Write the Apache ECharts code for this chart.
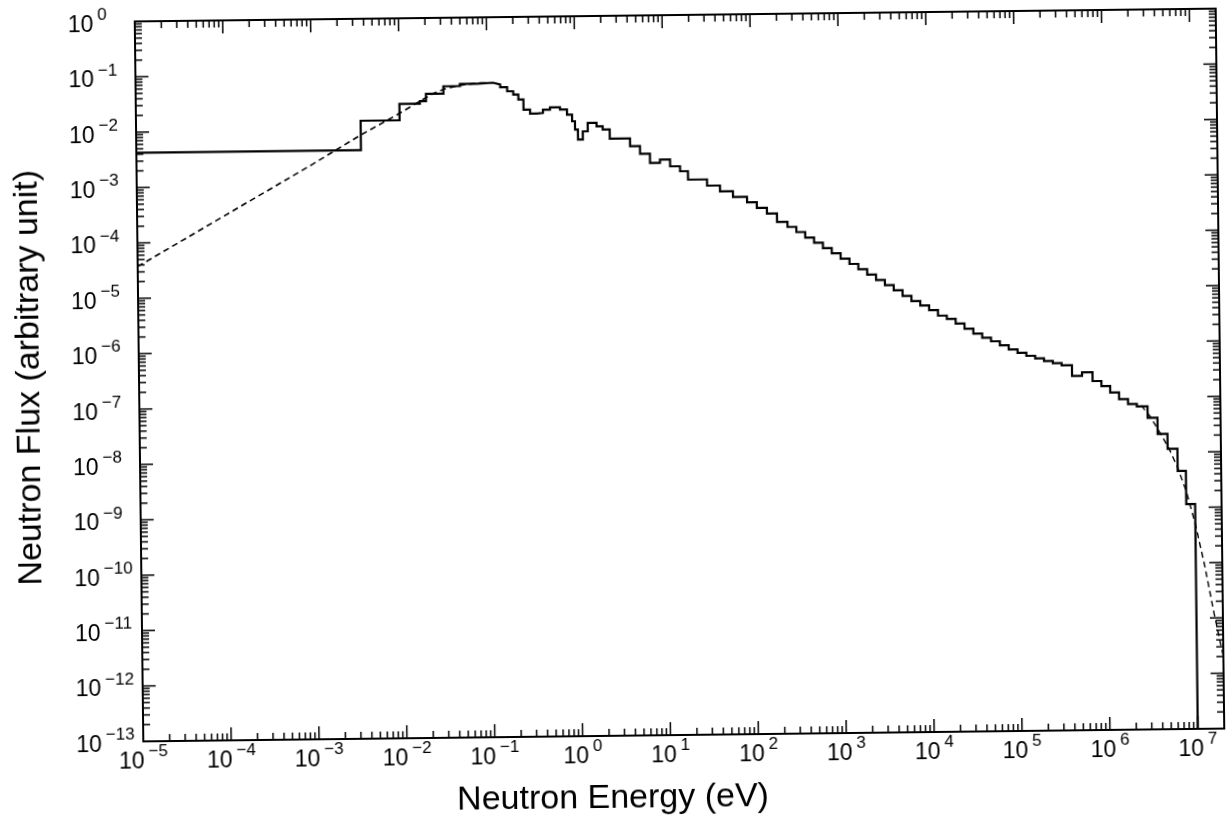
<!DOCTYPE html>
<html>
<head>
<meta charset="utf-8">
<title>Neutron Flux Spectrum</title>
<script src="https://cdn.jsdelivr.net/npm/echarts@6/dist/echarts.min.js"></script>
<style>
  html, body { margin: 0; padding: 0; background: #ffffff; }
  #chart {
    width: 1228px;
    height: 830px;
    transform: rotate(-0.68deg);
    transform-origin: 680px 374.5px;
  }
</style>
</head>
<body>
<div id="chart"></div>
<script>
// Group boundaries of the multigroup flux histogram (eV)
const groupEdges = [
  1e-5, 3.6e-3, 1.0e-2, 0.0171, 0.0201, 0.0318, 0.0491, 0.0769, 0.117, 0.141,
  0.169, 0.198, 0.226, 0.258, 0.306, 0.367, 0.429, 0.516, 0.671, 0.805,
  0.918, 0.989, 1.066, 1.21, 1.38, 1.74, 2.04, 2.45, 4.16, 5.39,
  6.98, 9.06, 11.8, 15.3, 18.8, 30.9, 43.3, 60.7, 87.6, 113,
  147, 191, 251, 316, 398, 501, 631, 794, 1000, 1259,
  1585, 1995, 2512, 3162, 3981, 5012, 6310, 7943, 1.0e4, 1.259e4,
  1.585e4, 1.995e4, 2.512e4, 3.162e4, 3.981e4, 5.012e4, 6.31e4, 7.943e4, 1.0e5, 1.259e5,
  1.585e5, 1.995e5, 2.512e5, 3.162e5, 4.14e5, 5.38e5, 7.08e5, 8.91e5, 1.12e6, 1.41e6,
  1.78e6, 2.24e6, 2.96e6, 3.83e6, 4.95e6, 6.40e6, 7.93e6, 1.0e7, 2.0e7
];

// Flux in each group (arbitrary unit)
const groupFlux = [
  4.23e-3, 0.0144, 0.0284, 0.0315, 0.0425, 0.058, 0.0634, 0.0656, 0.0608, 0.0542,
  0.0456, 0.0398, 0.0322, 0.0211, 0.0178, 0.0183, 0.0209, 0.0229, 0.0208, 0.0168,
  0.0127, 8.97e-3, 5.92e-3, 8.3e-3, 0.01175, 0.01016, 8.85e-3, 6.07e-3, 4.37e-3, 3.17e-3,
  2.16e-3, 2.47e-3, 1.86e-3, 1.51e-3, 1.06e-3, 8.17e-4, 6.42e-4, 5.04e-4, 4.0e-4, 3.15e-4,
  2.48e-4, 1.74e-4, 1.41e-4, 1.135e-4, 9.0e-5, 7.2e-5, 5.75e-5, 4.61e-5, 3.67e-5, 2.94e-5,
  2.34e-5, 1.87e-5, 1.49e-5, 1.20e-5, 9.6e-6, 7.57e-6, 6.1e-6, 5.05e-6, 4.15e-6, 3.28e-6,
  2.84e-6, 2.33e-6, 1.88e-6, 1.53e-6, 1.28e-6, 1.10e-6, 9.3e-7, 7.8e-7, 6.7e-7, 5.9e-7,
  5.3e-7, 4.7e-7, 4.3e-7, 3.9e-7, 2.5e-7, 2.9e-7, 2.0e-7, 1.62e-7, 1.23e-7, 9.3e-8,
  7.6e-8, 6.8e-8, 4.24e-8, 2.16e-8, 1.15e-8, 4.57e-9, 1.15e-9, 1e-13
];

// Smooth reference curve on the thermal side (dashed)
const fitLowEnergy = [1e-5, 1e-4, 1e-3, 3.6e-3, 1e-2, 0.0171, 0.025, 0.033, 0.05, 0.075, 0.1];
const fitLowFlux   = [3.75e-5, 3.0e-4, 2.4e-3, 8.0e-3, 1.92e-2, 3.16e-2, 4.4e-2, 5.2e-2, 6.0e-2, 6.5e-2, 6.6e-2];

// Smooth reference curve on the fast tail (dashed)
const fitHighEnergy = [2.51e6, 3.16e6, 3.98e6, 5.01e6, 6.31e6, 7.94e6, 1.0e7, 1.26e7, 1.58e7, 2.0e7];
const fitHighFlux   = [7.1e-8, 4.5e-8, 2.4e-8, 1.26e-8, 5.6e-9, 2.0e-9, 5.0e-10, 8.9e-11, 1.26e-11, 2.0e-12];

// Decade exponents carrying tick labels
const energyExponents = [-5, -4, -3, -2, -1, 0, 1, 2, 3, 4, 5, 6, 7];
const fluxExponents = [-13, -12, -11, -10, -9, -8, -7, -6, -5, -4, -3, -2, -1, 0];

const E_MIN = 1e-5, E_MAX = 2e7;
const F_MIN = 1e-13, F_MAX = 1;
const MAJOR_LEN = 13, MINOR_LEN = 7;
const LABEL_FONT = '"Liberation Sans", Arial, sans-serif';

// Histogram outline: each group becomes a flat segment; neighbours join vertically
const histogramPoints = [];
for (let i = 0; i < groupFlux.length; i++) {
  histogramPoints.push([groupEdges[i], groupFlux[i]]);
  histogramPoints.push([groupEdges[i + 1], groupFlux[i]]);
}
const fitLowPoints = fitLowEnergy.map((e, i) => [e, fitLowFlux[i]]);
const fitHighPoints = fitHighEnergy.map((e, i) => [e, fitHighFlux[i]]);

// Tick marks for decades (long) and 2..9 subdivisions (short)
const energyTicks = [];
energyExponents.forEach(n => {
  energyTicks.push([Math.pow(10, n), F_MIN, MAJOR_LEN]);
  for (let k = 2; k <= 9; k++) {
    const v = k * Math.pow(10, n);
    if (v < E_MAX) energyTicks.push([v, F_MIN, MINOR_LEN]);
  }
});
const fluxTicks = [];
fluxExponents.forEach(n => {
  fluxTicks.push([E_MIN, Math.pow(10, n), MAJOR_LEN]);
  for (let k = 2; k <= 9; k++) {
    const v = k * Math.pow(10, n);
    if (v < F_MAX) fluxTicks.push([E_MIN, v, MINOR_LEN]);
  }
});

function decadeLabel(value) {
  const lg = Math.log10(value);
  const n = Math.round(lg);
  if (Math.abs(lg - n) > 1e-6) return '';
  const exp = n < 0 ? '\u2212' + (-n) : String(n);
  return '{b|10}{s|' + exp + '}';
}

const labelRich = {
  b: { fontFamily: LABEL_FONT, fontSize: 23, color: '#000', lineHeight: 30, verticalAlign: 'bottom' },
  s: { fontFamily: LABEL_FONT, fontSize: 17, color: '#000', lineHeight: 12, verticalAlign: 'top', padding: [0, 0, 0, 4] }
};

const tickStyle = { stroke: '#000', lineWidth: 1.5 };

const chart = echarts.init(document.getElementById('chart'), null, { renderer: 'canvas' });

chart.setOption({
  animation: false,
  backgroundColor: '#ffffff',
  grid: {
    left: 139, top: 15, width: 1081, height: 720,
    containLabel: false,
    outerBoundsMode: 'none',
    show: true,
    borderColor: '#000',
    borderWidth: 2,
    backgroundColor: 'transparent'
  },
  xAxis: {
    type: 'log',
    logBase: 10,
    min: E_MIN,
    max: E_MAX,
    interval: 1,
    axisLine: { show: false },
    axisTick: { show: false },
    splitLine: { show: false },
    minorTick: { show: false },
    axisLabel: {
      show: true,
      margin: 2,
      formatter: decadeLabel,
      rich: labelRich,
      showMinLabel: true,
      showMaxLabel: true
    }
  },
  yAxis: {
    type: 'log',
    logBase: 10,
    min: F_MIN,
    max: F_MAX,
    interval: 1,
    axisLine: { show: false },
    axisTick: { show: false },
    splitLine: { show: false },
    minorTick: { show: false },
    axisLabel: {
      show: true,
      align: 'left',
      margin: 67,
      formatter: decadeLabel,
      rich: labelRich,
      showMinLabel: true,
      showMaxLabel: true
    }
  },
  graphic: [
    {
      type: 'text',
      x: 608, y: 798,
      style: {
        text: 'Neutron Energy (eV)',
        fontFamily: LABEL_FONT, fontSize: 34, fill: '#000',
        align: 'center', verticalAlign: 'middle'
      }
    },
    {
      type: 'text',
      x: 30, y: 370,
      rotation: Math.PI / 2,
      style: {
        text: 'Neutron Flux (arbitrary unit)',
        fontFamily: LABEL_FONT, fontSize: 34, fill: '#000',
        align: 'center', verticalAlign: 'middle'
      }
    }
  ],
  series: [
    {
      name: 'energy ticks',
      type: 'custom',
      silent: true,
      z: 4,
      data: energyTicks,
      encode: { x: 0, y: 1 },
      renderItem: function (params, api) {
        const v = api.value(0);
        const len = api.value(2);
        const b = api.coord([v, F_MIN]);
        const t = api.coord([v, F_MAX]);
        return {
          type: 'group',
          children: [
            { type: 'line', shape: { x1: b[0], y1: b[1], x2: b[0], y2: b[1] - len }, style: tickStyle },
            { type: 'line', shape: { x1: t[0], y1: t[1], x2: t[0], y2: t[1] + len }, style: tickStyle }
          ]
        };
      }
    },
    {
      name: 'flux ticks',
      type: 'custom',
      silent: true,
      z: 4,
      data: fluxTicks,
      encode: { x: 0, y: 1 },
      renderItem: function (params, api) {
        const v = api.value(1);
        const len = api.value(2);
        const l = api.coord([E_MIN, v]);
        const r = api.coord([E_MAX, v]);
        return {
          type: 'group',
          children: [
            { type: 'line', shape: { x1: l[0], y1: l[1], x2: l[0] + len, y2: l[1] }, style: tickStyle },
            { type: 'line', shape: { x1: r[0], y1: r[1], x2: r[0] - len, y2: r[1] }, style: tickStyle }
          ]
        };
      }
    },
    {
      name: 'fit thermal',
      type: 'line',
      data: fitLowPoints,
      showSymbol: false,
      symbol: 'none',
      clip: false,
      z: 3,
      lineStyle: { color: '#000', width: 1.6, type: [6, 4] }
    },
    {
      name: 'fit fast',
      type: 'line',
      data: fitHighPoints,
      showSymbol: false,
      symbol: 'none',
      clip: false,
      z: 3,
      lineStyle: { color: '#000', width: 1.4, type: [6, 4] }
    },
    {
      name: 'group flux',
      type: 'line',
      data: histogramPoints,
      showSymbol: false,
      symbol: 'none',
      clip: false,
      z: 5,
      lineStyle: { color: '#000', width: 2.2, join: 'miter' }
    }
  ]
});
</script>
</body>
</html>
